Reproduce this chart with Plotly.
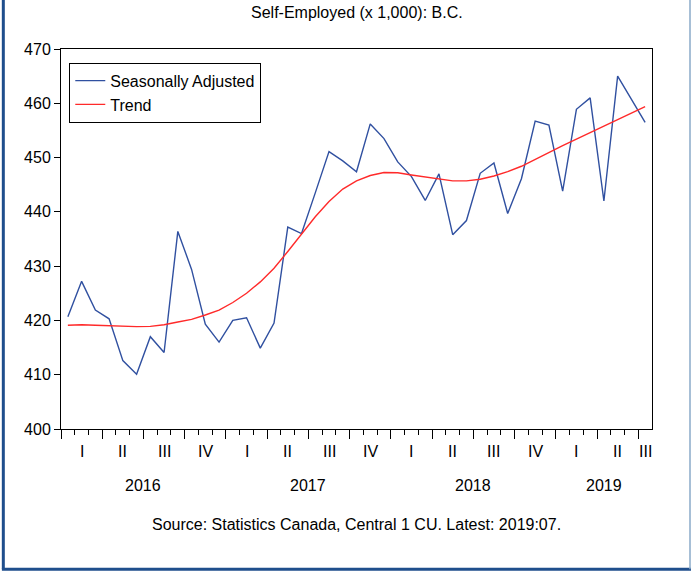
import plotly.graph_objects as go
import pandas as pd

# Monthly data, 2016:01 - 2019:07
months = pd.period_range("2016-01", "2019-07", freq="M")

seasonally_adjusted = [
    420.7, 427.2, 421.9, 420.3, 412.6, 410.1, 417.0, 414.1, 436.4, 429.4, 419.3, 416.0,
    420.0, 420.5, 414.9, 419.5, 437.2, 436.0, 443.5, 451.1, 449.4, 447.4, 456.2, 453.5,
    449.2, 446.5, 442.1, 447.0, 435.8, 438.4, 447.1, 449.0, 439.7, 446.1, 456.7, 456.0,
    443.8, 458.9, 461.0, 442.0, 465.0, 460.7, 456.5,
]
trend = [
    419.1, 419.2, 419.1, 419.0, 418.9, 418.85, 418.9, 419.2, 419.7, 420.2, 421.0, 421.9,
    423.3, 425.0, 427.1, 429.6, 432.7, 435.9, 439.1, 441.9, 444.2, 445.7, 446.7, 447.25,
    447.2, 446.8, 446.4, 446.0, 445.7, 445.7, 446.0, 446.6, 447.4, 448.4, 449.7, 450.9,
    452.2, 453.4, 454.6, 455.9, 457.1, 458.2, 459.4,
]
quarter_names = ["I", "II", "III", "IV"]

title_text = "Self-Employed (x 1,000): B.C."
source_text = "Source: Statistics Canada, Central 1 CU. Latest: 2019:07."

FONT = "Liberation Sans, Arial, sans-serif"
BLUE = "#3050a0"
RED = "#ff2a2a"

idx = list(range(len(months)))
labels = [str(m) for m in months]

fig = go.Figure()
fig.add_trace(go.Scatter(x=idx, y=seasonally_adjusted, mode="lines", name="Seasonally Adjusted",
                         line=dict(color=BLUE, width=1.4), text=labels, hoverinfo="text+y"))
fig.add_trace(go.Scatter(x=idx, y=trend, mode="lines", name="Trend",
                         line=dict(color=RED, width=1.4), text=labels, hoverinfo="text+y"))

# Quarter and year groupings derived from the month list
quarters = {}
years = {}
for i, m in enumerate(months):
    quarters.setdefault((m.year, (m.month - 1) // 3), []).append(i)
    years.setdefault(m.year, []).append(i)

major_ticks = [min(v) - 0.5 for v in quarters.values()]
minor_ticks = [i - 0.5 for i in idx]

annotations = []
for (yr, q), members in quarters.items():
    annotations.append(dict(x=sum(members) / len(members), y=-0.0605, xref="x", yref="paper",
                            text=quarter_names[q], showarrow=False, yanchor="middle",
                            font=dict(size=16, color="black", family=FONT)))
for yr, members in years.items():
    annotations.append(dict(x=(min(members) + max(members)) / 2, y=-0.15, xref="x", yref="paper",
                            text=str(yr), showarrow=False, yanchor="middle",
                            font=dict(size=16, color="black", family=FONT)))
annotations.append(dict(x=0.5, y=1.097, xref="paper", yref="paper", text=title_text,
                        showarrow=False, yanchor="middle",
                        font=dict(size=16, color="black", family=FONT)))
annotations.append(dict(x=0.5, y=-0.2526, xref="paper", yref="paper", text=source_text,
                        showarrow=False, yanchor="middle",
                        font=dict(size=16, color="black", family=FONT)))

shapes = [
    # outer frame
    dict(type="line", xref="paper", yref="paper", x0=-0.0976, x1=-0.0976, y0=1.14, y1=-0.369,
         line=dict(color="#1f4e8c", width=3)),
    dict(type="line", xref="paper", yref="paper", x0=-0.1, x1=1.066, y0=-0.369, y1=-0.369,
         line=dict(color="#1f4e8c", width=3)),
    dict(type="line", xref="paper", yref="paper", x0=1.0643, x1=1.0643, y0=1.14, y1=-0.369,
         line=dict(color="#8aaac8", width=1.5)),
]

fig.update_layout(
    width=691, height=579,
    margin=dict(l=61, r=39, t=49, b=150),
    paper_bgcolor="white", plot_bgcolor="white",
    font=dict(family=FONT, size=16, color="black"),
    showlegend=True,
    legend=dict(x=0.014, y=0.964, xanchor="left", yanchor="top",
                bgcolor="white", bordercolor="black", borderwidth=1,
                font=dict(size=16, family=FONT, color="black"), tracegroupgap=0),
    xaxis=dict(range=[-0.5, len(months) - 0.5], tickmode="array", tickvals=major_ticks,
               ticks="outside", ticklen=9, tickcolor="black", tickwidth=1,
               showticklabels=False, showgrid=False, zeroline=False,
               showline=True, linecolor="black", linewidth=1, mirror=True,
               minor=dict(tickmode="array", tickvals=minor_ticks, ticks="outside",
                          ticklen=5, tickcolor="black", tickwidth=1, showgrid=False)),
    yaxis=dict(range=[400, 470], tickmode="linear", tick0=400, dtick=10,
               ticks="outside", ticklen=6, tickcolor="black", tickwidth=1,
               showgrid=False, zeroline=False, showline=True, linecolor="black",
               linewidth=1, mirror=True, tickfont=dict(size=16, family=FONT)),
    annotations=annotations,
    shapes=shapes,
)

fig.write_html("out.html", config={"displayModeBar": False},
               post_script="document.body.style.margin='0';")
